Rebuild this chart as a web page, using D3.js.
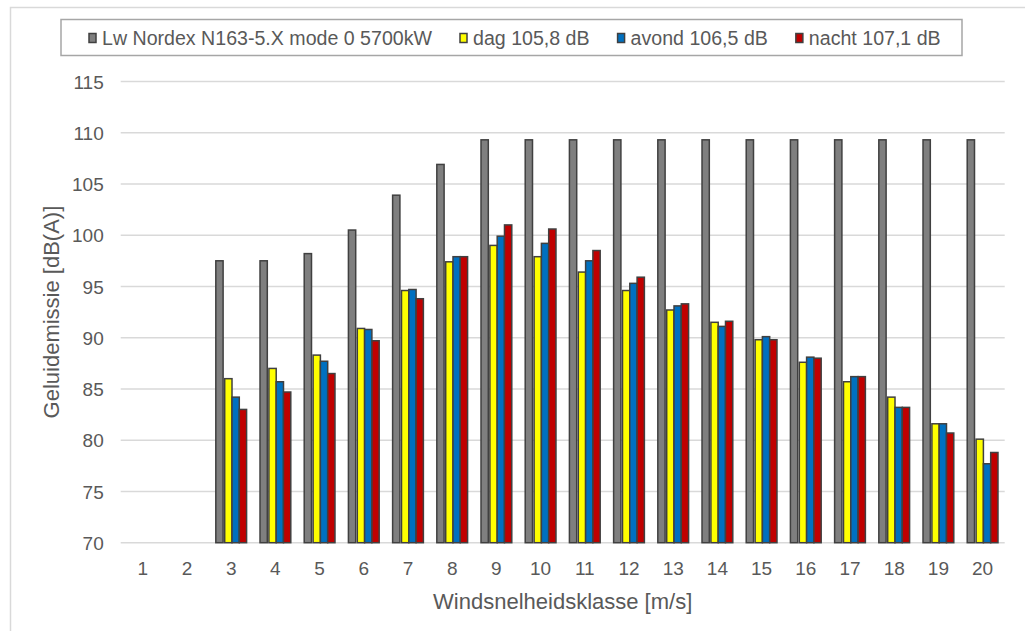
<!DOCTYPE html>
<html><head><meta charset="utf-8">
<script src="https://cdn.jsdelivr.net/npm/d3@7"></script>
<style>body{margin:0;background:#fff;} svg{display:block;font-family:"Liberation Sans",Arial,sans-serif;}</style>
</head><body><svg id="c" width="1025" height="631"></svg>
<script>
const categories = ["1","2","3","4","5","6","7","8","9","10","11","12","13","14","15","16","17","18","19","20"];
const seriesNames = ["Lw Nordex N163-5.X mode 0 5700kW","dag 105,8 dB","avond 106,5 dB","nacht 107,1 dB"];
const lwValues   = [null,null,97.5,97.5,98.2,100.5,103.9,106.9,109.3,109.3,109.3,109.3,109.3,109.3,109.3,109.3,109.3,109.3,109.3,109.3];
const dagValues  = [null,null,86.0,87.0,88.3,90.9,94.6,97.4,99.0,97.9,96.4,94.6,92.7,91.5,89.8,87.6,85.7,84.2,81.6,80.1];
const avondValues= [null,null,84.2,85.7,87.7,90.8,94.7,97.9,99.9,99.2,97.5,95.3,93.1,91.1,90.1,88.1,86.2,83.2,81.6,77.7];
const nachtValues= [null,null,83.0,84.7,86.5,89.7,93.8,97.9,101.0,100.6,98.5,95.9,93.3,91.6,89.8,88.0,86.2,83.2,80.7,78.8];
const yTicks = [70,75,80,85,90,95,100,105,110,115];
const colors = ["#7f7f7f","#ffff00","#0070c0","#c00000"];
const yTitle = "Geluidemissie [dB(A)]";
const xTitle = "Windsnelheidsklasse [m/s]";

const series = [lwValues, dagValues, avondValues, nachtValues];
const svg = d3.select("#c");
const m = {l:120.7, r:1004.7, t:81.4, b:542.7};
const x = d3.scaleBand().domain(categories).range([m.l, m.r]).padding(0);
const y = d3.scaleLinear().domain([70,115]).range([m.b, m.t]);
const txt = "#595959";

// outer border
svg.append("rect").attr("x",10.5).attr("y",7.5).attr("width",1030).attr("height",640)
  .attr("fill","none").attr("stroke","#d9d9d9").attr("stroke-width",1.5);

// gridlines
svg.append("g").selectAll("line").data(yTicks).join("line")
  .attr("x1",m.l).attr("x2",m.r).attr("y1",d=>y(d)).attr("y2",d=>y(d))
  .attr("stroke","#d9d9d9").attr("stroke-width",1.5);

// y axis labels
const yAxis = d3.axisLeft(y).tickValues(yTicks).tickSize(0).tickPadding(0);
const yg = svg.append("g").attr("transform",`translate(${m.l-17},0)`).call(yAxis);
yg.select(".domain").remove();
yg.selectAll("text").attr("fill",txt).attr("font-size",19).attr("font-family","Liberation Sans, Arial, sans-serif").attr("dy","0.35em");

// x axis labels
const xAxis = d3.axisBottom(x).tickSize(0).tickPadding(0);
const xg = svg.append("g").attr("transform",`translate(0,${m.b+18})`).call(xAxis);
xg.select(".domain").remove();
xg.selectAll("text").attr("fill",txt).attr("font-size",19).attr("font-family","Liberation Sans, Arial, sans-serif").attr("dy","0.75em");

// bars
const bw = x.bandwidth()*0.165, gap = 1.6;
const total = 4*bw + gap;
function offset(i){ return -total/2 + (i===0 ? 0 : bw + gap + (i-1)*bw); }
series.forEach((vals,si)=>{
  svg.append("g").selectAll("rect").data(vals.map((v,i)=>({c:categories[i],v})).filter(d=>d.v!=null)).join("rect")
    .attr("x",d=>x(d.c)+x.bandwidth()/2+offset(si))
    .attr("width",bw)
    .attr("y",d=>y(d.v))
    .attr("height",d=>y(70)-y(d.v))
    .attr("fill",colors[si]).attr("stroke","#404040").attr("stroke-width",1.5);
});

// axis titles
svg.append("text").attr("x",(m.l+m.r)/2).attr("y",609).attr("text-anchor","middle")
  .attr("fill",txt).attr("font-size",22).text(xTitle);
svg.append("text").attr("transform",`translate(59,${(m.t+m.b)/2}) rotate(-90)`).attr("text-anchor","middle")
  .attr("fill",txt).attr("font-size",22).text(yTitle);

// legend
const lg = svg.append("g");
lg.append("rect").attr("x",61).attr("y",19.5).attr("width",901).attr("height",36)
  .attr("fill","#fff").attr("stroke","#a6a6a6").attr("stroke-width",1.5);
let lx = 89;
seriesNames.forEach((name,i)=>{
  lg.append("rect").attr("x",lx).attr("y",33.5).attr("width",7).attr("height",9)
    .attr("fill",colors[i]).attr("stroke","#404040").attr("stroke-width",1.5);
  const t = lg.append("text").attr("x",lx+13).attr("y",44.5).attr("fill",txt).attr("font-size",19.6).text(name);
  lx = lx + 13 + t.node().getComputedTextLength() + 28;
});
</script></body></html>
